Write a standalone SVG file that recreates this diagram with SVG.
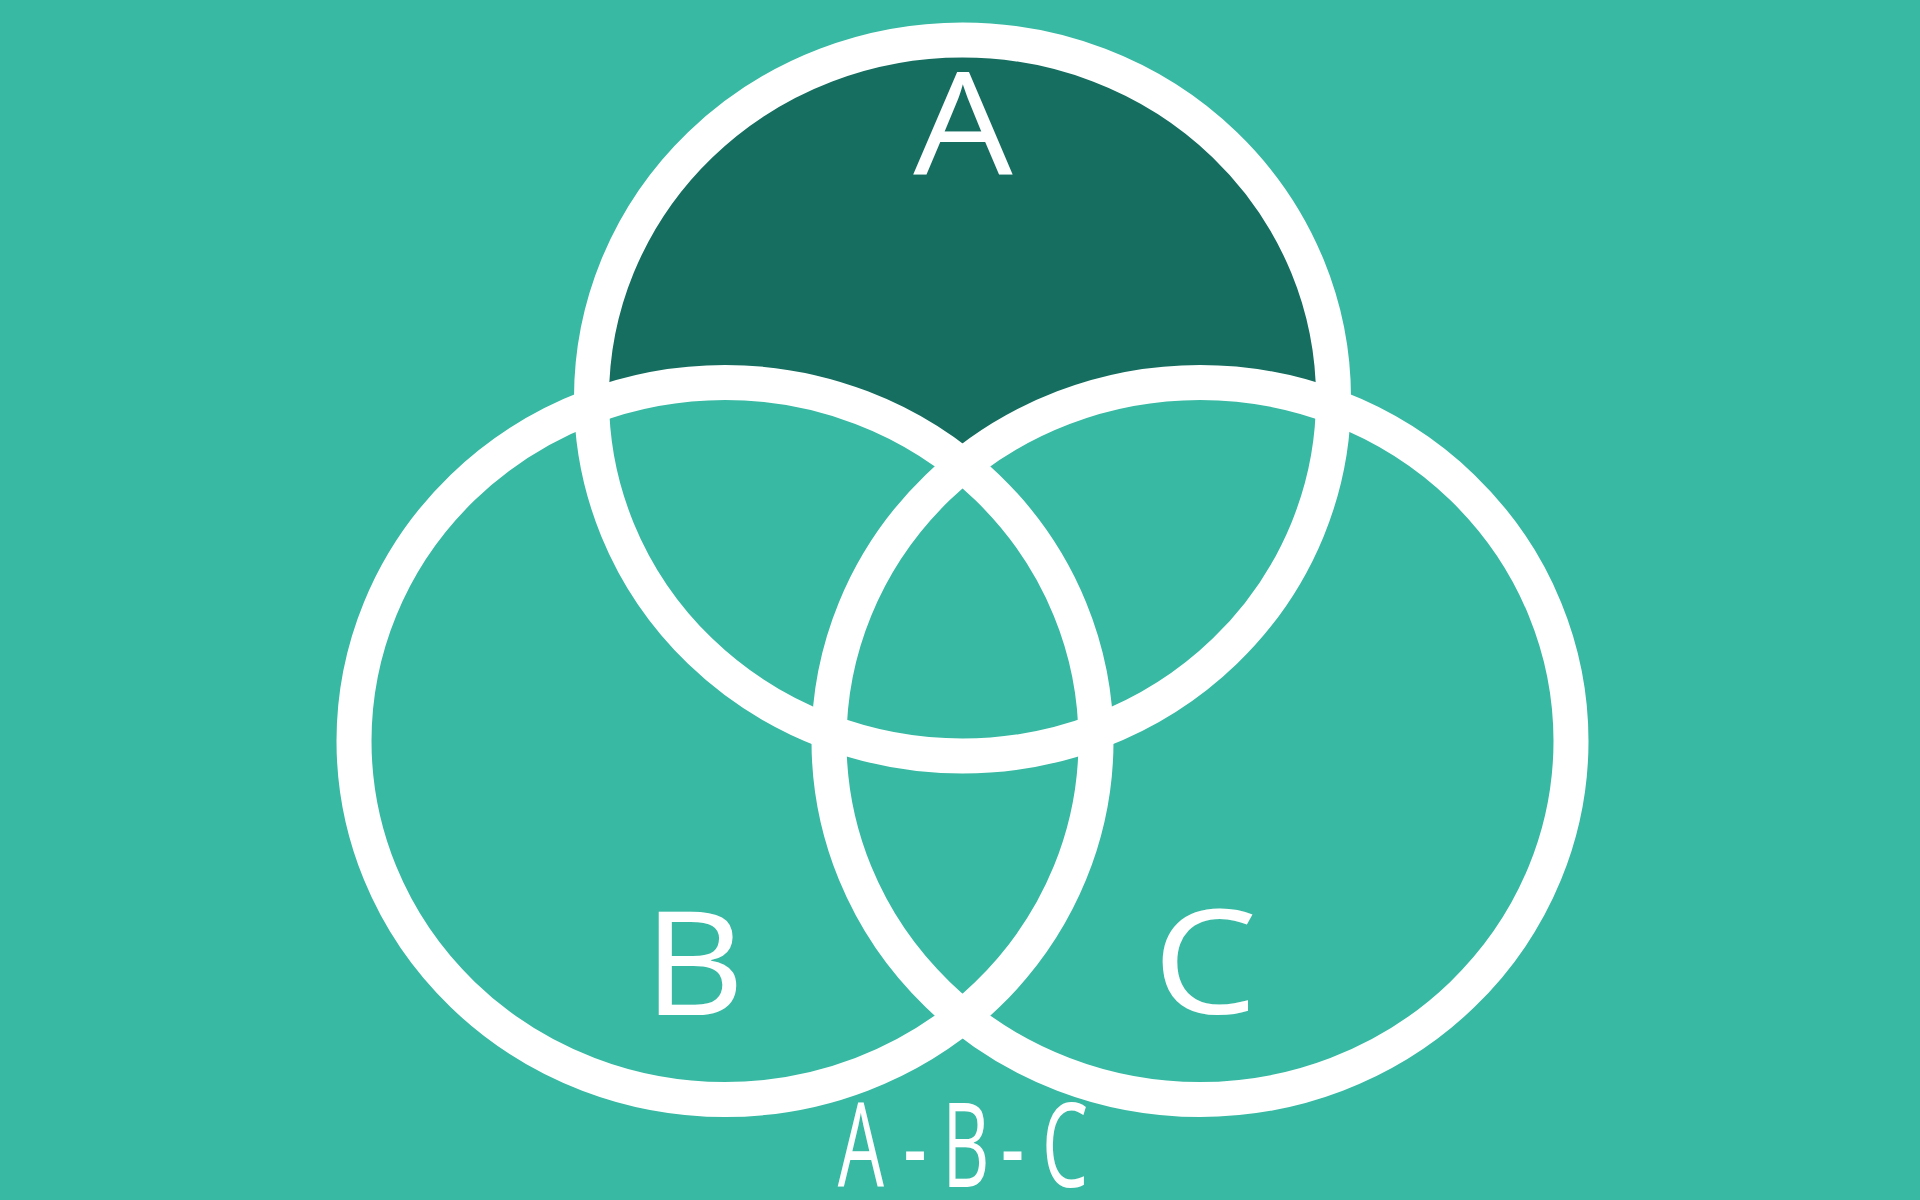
<svg xmlns="http://www.w3.org/2000/svg" width="1920" height="1200" viewBox="0 0 1920 1200">
  <style>
    .ring { fill: none; stroke: #ffffff; stroke-width: 35; }
    .lbl { font-family: "Open Sans", "Liberation Sans", sans-serif; fill: #ffffff; text-anchor: middle; }
  </style>
  <defs>
    <mask id="onlyA">
      <rect x="0" y="0" width="1920" height="1200" fill="#000"/>
      <ellipse cx="962.5" cy="398" rx="371" ry="358" fill="#fff"/>
      <ellipse cx="725" cy="741" rx="371" ry="358.5" fill="#000"/>
      <ellipse cx="1200" cy="741" rx="371" ry="358.5" fill="#000"/>
    </mask>
  </defs>
  <rect x="0" y="0" width="1920" height="1200" fill="#38b9a3"/>
  <rect x="0" y="0" width="1920" height="1200" fill="#166e60" mask="url(#onlyA)"/>
  <g id="connectors"></g>
  <g id="set-A">
    <ellipse class="ring" cx="962.5" cy="398" rx="371" ry="358"/>
    <text class="lbl" transform="translate(963,174) scale(1.1,1)" x="0" y="0" font-size="143">A</text>
  </g>
  <g id="set-B">
    <ellipse class="ring" cx="725" cy="741" rx="371" ry="358.5"/>
    <text class="lbl" transform="translate(694,1015) scale(1.08,1)" x="0" y="0" font-size="145">B</text>
  </g>
  <g id="set-C">
    <ellipse class="ring" cx="1200" cy="741" rx="371" ry="358.5"/>
    <text class="lbl" transform="translate(1205,1014) scale(1.15,1)" x="0" y="0" font-size="145">C</text>
  </g>
  <g id="caption" transform="scale(0.62,1)">
    <text class="lbl" font-size="118" y="1187" x="1388.7">A</text>
    <text class="lbl" font-size="118" y="1187" x="1475.8">-</text>
    <text class="lbl" font-size="118" y="1187" x="1558">B</text>
    <text class="lbl" font-size="118" y="1187" x="1633">-</text>
    <text class="lbl" font-size="118" y="1187" x="1717.7">C</text>
  </g>
</svg>
